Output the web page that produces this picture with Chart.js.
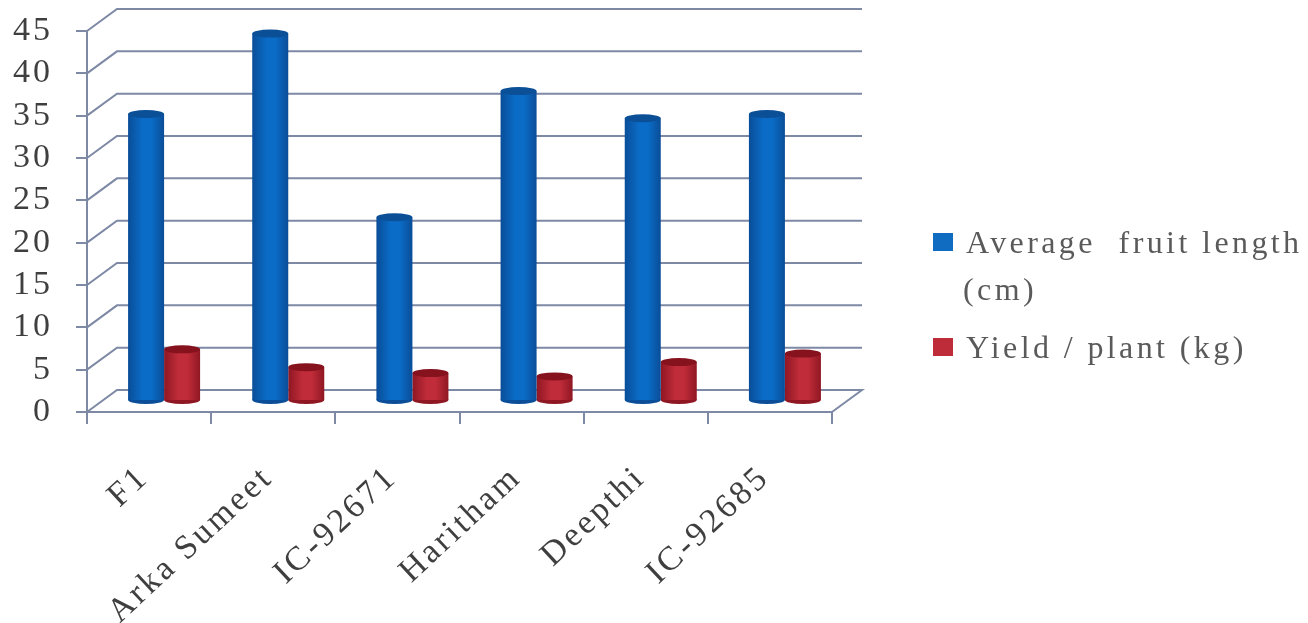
<!DOCTYPE html>
<html>
<head>
<meta charset="utf-8">
<title>Fruit length and yield</title>
<script src="https://cdn.jsdelivr.net/npm/chart.js@4/dist/chart.umd.min.js"></script>
<style>
  html, body { margin: 0; background: #fff; }
  canvas { display: block; }
</style>
</head>
<body>
<canvas id="chart" width="1308" height="623"></canvas>
<script>
// --- Data
const categories = ["F1", "Arka Sumeet", "IC-92671", "Haritham", "Deepthi", "IC-92685"];
const fruitLength = [33.9, 43.4, 21.7, 36.6, 33.4, 33.9];
const yieldPerPlant = [6.1, 4.0, 3.3, 2.9, 4.6, 5.6];
const legendLabels = [["Average  fruit length", "(cm)"], ["Yield / plant (kg)"]];

// --- Look
const AXIS = "#7e89a5";
const TEXT = "#3f3f3f";
const SERIF = "'Liberation Serif', serif";
const CAT_PCT = 0.58;
const WALL = { dx: 30, dy: -22 };   // depth of the back wall
const BARS = { dx: 15, dy: -11 };   // bars stand half way into the floor
const CAP_RY = 4;

const BLUE = { edge: "#0a4d98", mid: "#0a6cc6", cap: "#0b4f97", key: "#0f6cc0" };
const RED = { edge: "#8f1723", mid: "#c02c39", cap: "#85121d", key: "#bd2c38" };

function cylinderFill(colors, side){
  return (c) => {
    const xs = c.chart.scales.x;
    if (c.dataIndex === undefined || !xs || !xs.width) return colors.mid;
    const w = xs.width / categories.length * CAT_PCT / 2;
    const left = xs.getPixelForValue(c.dataIndex) + (side < 0 ? -w : 0);
    if (!Number.isFinite(left)) return colors.mid;
    const g = c.chart.ctx.createLinearGradient(left, 0, left + w, 0);
    g.addColorStop(0, colors.edge);
    g.addColorStop(0.4, colors.mid);
    g.addColorStop(0.65, colors.mid);
    g.addColorStop(1, colors.edge);
    return g;
  };
}

// Axis labels are set wider than the font's natural spacing
const spacingPlugin = {
  id: "spacing",
  beforeDraw(chart){ chart.ctx.letterSpacing = "3px"; }
};

// Back wall: every y tick runs diagonally off the axis and then along the wall
const wallPlugin = {
  id: "wall",
  beforeDatasetsDraw(chart){
    const { ctx, chartArea: a, scales: { y } } = chart;
    ctx.save();
    ctx.strokeStyle = AXIS;
    ctx.lineWidth = 2;
    for (const t of y.ticks){
      const py = y.getPixelForValue(t.value);
      ctx.beginPath();
      ctx.moveTo(a.left, py);
      ctx.lineTo(a.left + WALL.dx, py + WALL.dy);
      ctx.lineTo(a.right + WALL.dx, py + WALL.dy);
      if (t.value === 0) ctx.lineTo(a.right, py);
      ctx.stroke();
    }
    ctx.restore();
  }
};

// Shift bars into the floor and round them off with elliptical ends
function ellipse(ctx, bar, y, color){
  ctx.fillStyle = color;
  ctx.beginPath();
  ctx.ellipse(bar.x, y, bar.width / 2, CAP_RY, 0, 0, Math.PI * 2);
  ctx.fill();
}
const cylinderPlugin = {
  id: "cylinder",
  beforeDatasetDraw(chart, args){
    const { ctx } = chart;
    const colors = args.index === 0 ? BLUE : RED;
    ctx.save();
    ctx.translate(BARS.dx, BARS.dy);
    for (const bar of args.meta.data) ellipse(ctx, bar, bar.base, colors.edge);
  },
  afterDatasetDraw(chart, args){
    const { ctx } = chart;
    const colors = args.index === 0 ? BLUE : RED;
    for (const bar of args.meta.data) ellipse(ctx, bar, bar.y, colors.cap);
    ctx.restore();
  }
};

const legendPlugin = {
  id: "sideLegend",
  afterDraw(chart){
    const { ctx } = chart;
    const keys = [[BLUE.key, 233, [[966, 253], [963, 300]]], [RED.key, 338, [[966, 358]]]];
    ctx.save();
    ctx.font = `32px ${SERIF}`;
    ctx.letterSpacing = "3.4px";
    ctx.textBaseline = "alphabetic";
    keys.forEach(([color, keyY, spots], i) => {
      ctx.fillStyle = color;
      ctx.fillRect(933, keyY, 20, 18);
      ctx.fillStyle = "#5a5a5a";
      legendLabels[i].forEach((line, j) => ctx.fillText(line, spots[j][0], spots[j][1]));
    });
    ctx.restore();
  }
};

const chart = new Chart(document.getElementById("chart"), {
  type: "bar",
  data: {
    labels: categories,
    datasets: [
      { label: "Average fruit length (cm)", data: fruitLength, clip: false, backgroundColor: cylinderFill(BLUE, -1) },
      { label: "Yield / plant (kg)", data: yieldPerPlant, clip: false, backgroundColor: cylinderFill(RED, 1) }
    ]
  },
  options: {
    responsive: false,
    animation: false,
    categoryPercentage: CAT_PCT,
    barPercentage: 1,
    layout: { padding: { top: 31, right: 476, left: 0, bottom: 0 } },
    plugins: { legend: { display: false }, tooltip: { enabled: false } },
    scales: {
      x: {
        afterFit(s){ s.height = 211; s.paddingLeft = 0; s.paddingRight = 0; },
        border: { color: AXIS, width: 2 },
        grid: { drawOnChartArea: false, color: AXIS, lineWidth: 2, tickLength: 12 },
        ticks: {
          autoSkip: false, minRotation: 43, maxRotation: 43, padding: 34, labelOffset: -5,
          color: TEXT, font: { family: SERIF, size: 34 }
        }
      },
      y: {
        min: 0,
        max: 45,
        afterFit(s){ s.width = 87; s.paddingTop = 0; s.paddingBottom = 0; },
        border: { color: AXIS, width: 2 },
        grid: { drawOnChartArea: false, color: AXIS, lineWidth: 2, tickLength: 11 },
        ticks: {
          stepSize: 5, autoSkip: false, padding: 23,
          color: TEXT, font: { family: SERIF, size: 34 }
        }
      }
    }
  },
  plugins: [spacingPlugin, wallPlugin, cylinderPlugin, legendPlugin]
});
// The gradients need laid-out scales, so run the update once more
chart.update();
</script>
</body>
</html>
